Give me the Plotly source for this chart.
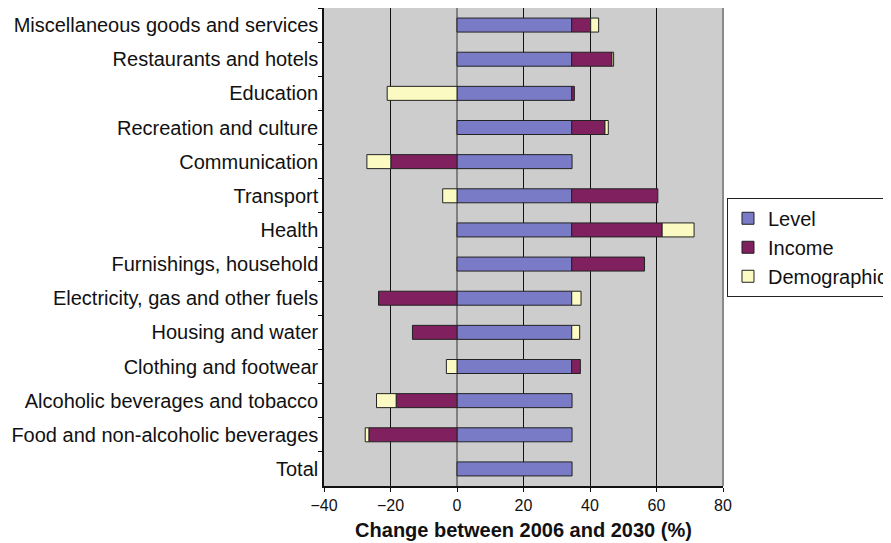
import plotly.graph_objects as go

# categories, top to bottom as in the chart
categories = ["Miscellaneous goods and services", "Restaurants and hotels", "Education",
              "Recreation and culture", "Communication", "Transport", "Health",
              "Furnishings, household", "Electricity, gas and other fuels",
              "Housing and water", "Clothing and footwear",
              "Alcoholic beverages and tobacco", "Food and non-alcoholic beverages", "Total"]

level = [34.5, 34.5, 34.5, 34.5, 34.6, 34.5, 34.5, 34.5, 34.5, 34.5, 34.5, 34.6, 34.6, 34.6]
income = [5.7, 12.1, 0.8, 10.0, -19.9, 25.9, 27.2, 21.9, -23.6, -13.4, 2.6, -18.3, -26.5, None]
demographic = [2.4, 0.5, -21.0, 1.0, -7.2, -4.3, 9.6, None, 2.8, 2.4, -3.2, -5.9, -1.1, None]

series = [("Level", level, "#7a7bc7"),
          ("Income", income, "#80205e"),
          ("Demographic", demographic, "#fafac2")]

fig = go.Figure()
for name, vals, col in series:
    fig.add_trace(go.Bar(
        y=categories, x=vals, name=name, orientation="h",
        marker=dict(color=col, line=dict(color="#222222", width=1)),
    ))

# page body has an 8px margin, so the figure is a bit smaller than the window
fig.update_layout(
    width=883, height=535,
    barmode="relative", bargap=0.59,
    plot_bgcolor="#cdcdcd", paper_bgcolor="white",
    margin=dict(l=316, r=168, t=0, b=57, autoexpand=False),
    font=dict(family="Liberation Sans, Arial", color="#111111"),
    legend=dict(x=1.01, xanchor="left", y=0.603, yanchor="top",
                traceorder="normal", bordercolor="#222222", borderwidth=1,
                bgcolor="white", font=dict(size=20)),
)
fig.update_xaxes(
    range=[-40, 80], dtick=20, showgrid=True, gridcolor="#111111", gridwidth=1,
    zeroline=True, zerolinecolor="#808080", zerolinewidth=1.5,
    showline=True, linecolor="#111111", linewidth=1.5, mirror=False,
    ticks="outside", ticklen=4, tickcolor="#111111",
    tickfont=dict(size=16), automargin=False,
    title=dict(text="<b>Change between 2006 and 2030 (%)</b>", font=dict(size=20), standoff=10),
)
fig.update_yaxes(
    autorange="reversed", showline=True, linecolor="#111111", linewidth=1.5,
    ticks="outside", ticklen=4, tickcolor="#111111", tickson="boundaries",
    showgrid=False, tickfont=dict(size=20), automargin=False,
)
# grey frame on the right side of the plot area
fig.add_shape(type="line", xref="paper", yref="paper", x0=1, x1=1, y0=0, y1=1,
              line=dict(color="#8a8a8a", width=2))

fig.write_html("out.html")
